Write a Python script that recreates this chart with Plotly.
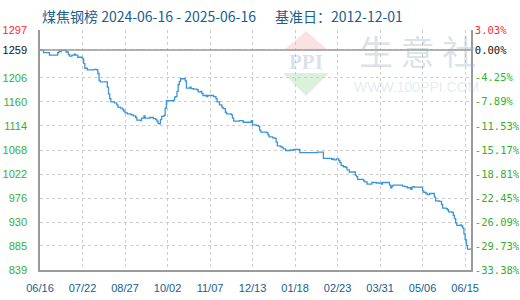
import pandas as pd
import plotly.graph_objects as go

# ---------------- data ----------------
start_date = "2024-06-16"
end_date = "2025-06-16"
base_value = 1259  # 基准值 (0.00%)

day_offsets = [0, 3, 8, 15, 16, 18, 22, 24, 25, 27, 29, 30, 32, 36, 37, 38, 40, 46, 48, 49,
               50, 51, 57, 58, 59, 60, 63, 65, 66, 68, 70, 71, 72, 74, 77, 79, 81, 82, 85, 86,
               88, 89, 93, 96, 98, 99, 100, 101, 102, 103, 105, 106, 107, 113, 114, 115, 116, 117, 118, 119,
               123, 124, 127, 128, 130, 133, 134, 136, 137, 138, 141, 142, 147, 149, 150, 152, 154, 155, 157, 158,
               162, 163, 164, 169, 172, 179, 180, 183, 185, 186, 187, 192, 193, 194, 197, 199, 200, 201, 204, 205,
               206, 208, 212, 215, 220, 235, 240, 247, 248, 249, 251, 253, 254, 255, 257, 259, 260, 262, 267, 268,
               269, 274, 275, 277, 281, 285, 289, 290, 296, 297, 298, 299, 307, 309, 311, 314, 315, 316, 317, 324,
               325, 327, 328, 330, 334, 335, 338, 340, 341, 344, 345, 346, 349, 350, 351, 352, 353, 356, 357, 358,
               359, 360, 361, 362, 365]
prices = [1259, 1254, 1249, 1254, 1256, 1258, 1255, 1250, 1247, 1249, 1251, 1249, 1245, 1242, 1233, 1224, 1221, 1222, 1221, 1214,
          1201, 1198, 1188, 1175, 1166, 1160, 1158, 1154, 1150, 1148, 1145, 1142, 1139, 1137, 1135, 1133, 1130, 1125, 1124, 1129,
          1133, 1129, 1130, 1128, 1126, 1123, 1119, 1118, 1126, 1132, 1134, 1148, 1162, 1163, 1169, 1170, 1180, 1193, 1199, 1204,
          1200, 1186, 1188, 1185, 1184, 1183, 1179, 1180, 1176, 1172, 1170, 1172, 1170, 1166, 1160, 1154, 1150, 1147, 1140, 1137,
          1135, 1129, 1123, 1124, 1121, 1124, 1116, 1115, 1113, 1106, 1102, 1101, 1097, 1093, 1091, 1090, 1083, 1076, 1074, 1073,
          1070, 1067, 1068, 1069, 1063, 1064, 1052, 1050, 1051, 1049, 1051, 1048, 1044, 1038, 1036, 1035, 1030, 1026, 1020, 1017,
          1012, 1009, 1007, 1003, 1006, 1005, 1003, 1006, 1001, 996, 999, 1001, 999, 998, 996, 993, 997, 998, 997, 990,
          987, 985, 983, 985, 978, 971, 970, 964, 957, 956, 954, 950, 949, 943, 937, 929, 924, 925, 923, 919,
          908, 897, 886, 879, 879]

x_tick_days = [0, 36, 72, 108, 144, 180, 216, 252, 288, 324, 360]
x_tick_labels = ["06/16", "07/22", "08/27", "10/02", "11/07", "12/13",
                 "01/18", "02/23", "03/31", "05/06", "06/15"]

y_tick_values = [839, 885, 930, 976, 1022, 1068, 1114, 1160, 1206, 1259, 1297]
y_pct_labels = ["-33.38%", "-29.73%", "-26.09%", "-22.45%", "-18.81%", "-15.17%",
                "-11.53%", "-7.89%", "-4.25%", "0.00%", "3.03%"]
y_min, y_max = 839, 1297

title_left = "煤焦钢榜 2024-06-16 - 2025-06-16"
title_right = "基准日：2012-12-01"

# ---------------- build ----------------
t0 = pd.Timestamp(start_date)
dates = [t0 + pd.Timedelta(days=d) for d in day_offsets]
tick_dates = [t0 + pd.Timedelta(days=d) for d in x_tick_days]

RED, GREEN, BLACK, BLUE = "#ff2a2a", "#33b033", "#111111", "#15608f"


def tick_color(v):
    if v == y_max:
        return RED
    if v == base_value:
        return BLACK
    return GREEN


left_text = [f'<span style="color:{tick_color(v)}">{v}</span>' for v in y_tick_values]
right_text = [f'<span style="color:{tick_color(v)}">{t}</span>' for v, t in zip(y_tick_values, y_pct_labels)]

L, R, T, B = 40, 49, 30, 30
W, H = 520, 300
PW, PH = W - L - R, H - T - B


def pp(x, y):
    return (x - L) / PW, (H - B - y) / PH


fig = go.Figure()
fig.add_trace(go.Scatter(x=dates, y=prices, mode="lines", line=dict(color="#3a96d8", width=1.3, shape="hv"),
                         hoverinfo="skip", showlegend=False))
fig.add_trace(go.Scatter(x=[dates[0]], y=[base_value], yaxis="y2", mode="markers", marker=dict(opacity=0),
                         hoverinfo="skip", showlegend=False))

# base line at 1259
fig.add_shape(type="line", xref="paper", x0=0, x1=1, yref="y", y0=base_value, y1=base_value,
              line=dict(color="#9a9a9a", width=1.5), layer="above")

# watermark logo
def tri(p1, p2, p3):
    a, b, c = pp(*p1), pp(*p2), pp(*p3)
    return f"M {a[0]},{a[1]} L {b[0]},{b[1]} L {c[0]},{c[1]} Z"

fig.add_shape(type="path", xref="paper", yref="paper", path=tri((283, 51), (329, 51), (306, 31)),
              fillcolor="rgba(240,150,150,0.28)", line=dict(width=0), layer="below")
fig.add_shape(type="path", xref="paper", yref="paper", path=tri((283, 73), (329, 73), (306, 96)),
              fillcolor="rgba(130,205,130,0.28)", line=dict(width=0), layer="below")
px_, py_ = pp(306, 62)
fig.add_annotation(xref="paper", yref="paper", x=px_, y=py_, xanchor="center", yanchor="middle",
                   text="<b>PPI</b>", showarrow=False,
                   font=dict(family="Liberation Serif", size=21, color="rgba(150,170,200,0.35)"))
px_, py_ = pp(417, 50)
fig.add_annotation(xref="paper", yref="paper", x=px_, y=py_, xanchor="center", yanchor="middle",
                   text="生 意 社", showarrow=False,
                   font=dict(family="Noto Sans CJK SC", size=34, color="rgba(160,178,200,0.4)"))
px_, py_ = pp(416, 87)
fig.add_annotation(xref="paper", yref="paper", x=px_, y=py_, xanchor="center", yanchor="middle",
                   text="WWW.100PPI.COM", showarrow=False,
                   font=dict(family="Liberation Sans", size=14, color="rgba(170,185,205,0.3)"))

# titles
tx, ty = pp(40, 16)
fig.add_annotation(xref="paper", yref="paper", x=tx, y=ty, xanchor="left", yanchor="middle", text=title_left,
                   showarrow=False, font=dict(family="Noto Sans CJK SC", size=14, color=BLUE))
tx, ty = pp(273, 16)
fig.add_annotation(xref="paper", yref="paper", x=tx, y=ty, xanchor="left", yanchor="middle", text=title_right,
                   showarrow=False, font=dict(family="Noto Sans CJK SC", size=14, color=BLUE))

fig.update_layout(
    width=W, height=H, margin=dict(l=L, r=R, t=T, b=B, autoexpand=False),
    plot_bgcolor="white", paper_bgcolor="white",
    xaxis=dict(type="date", range=[t0, pd.Timestamp(end_date)], tickmode="array", tickvals=tick_dates,
               ticktext=x_tick_labels, showgrid=True, gridcolor="#cccccc", griddash="3px,3px", gridwidth=1,
               showline=True, linecolor="#9a9a9a", linewidth=1.5, ticks="", zeroline=False, automargin=False,
               tickfont=dict(family="Liberation Sans", size=11, color=BLUE), ticklabelstandoff=7),
    yaxis=dict(range=[y_min, y_max], tickmode="array", tickvals=y_tick_values, ticktext=left_text,
               showgrid=True, gridcolor="#cccccc", griddash="3px,3px", gridwidth=1, zeroline=False,
               showline=True, linecolor="#9a9a9a", linewidth=1.5, ticks="", automargin=False,
               tickfont=dict(family="Liberation Sans", size=11), ticklabelstandoff=9),
    yaxis2=dict(range=[y_min, y_max], overlaying="y", side="right", tickmode="array", tickvals=y_tick_values,
                ticktext=right_text, showgrid=False, zeroline=False, showline=True, linecolor="#9a9a9a",
                linewidth=1.5, ticks="", automargin=False,
                tickfont=dict(family="DejaVu Sans Mono", size=10.5), ticklabelstandoff=0),
)

fig.write_html("out.html")
